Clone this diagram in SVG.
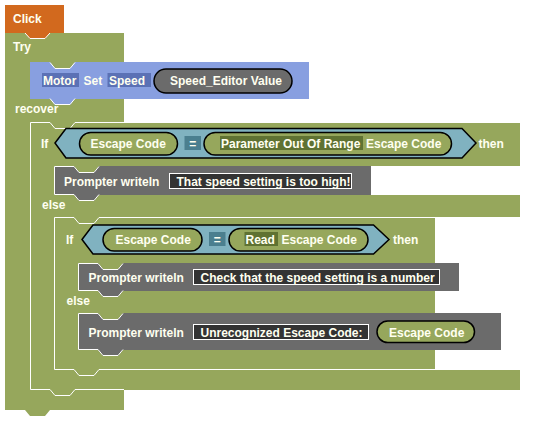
<svg xmlns="http://www.w3.org/2000/svg" width="540" height="426" viewBox="0 0 540 426">
<style>
text{font-family:"Liberation Sans",Arial,sans-serif;font-size:12px;font-weight:bold;fill:#fffff0}
.olive{fill:#96a75c}
.edge{fill:none;stroke:#ffffff;stroke-width:1}
.gray{fill:#6b6b6b}
.hex{fill:#80b2c0;stroke:#000;stroke-width:1.5}
.oval{fill:#96a75c;stroke:#000;stroke-width:1.5}
.ovalg{fill:#6b6b6b;stroke:#000;stroke-width:1.5}
.eq{fill:#4b7f8f}
.hl{fill:#5f7232}
.bhl{fill:#5b71b5}
.tbox{fill:#333333;stroke:#ffffff;stroke-width:1}
</style>
<rect width="540" height="426" fill="#ffffff"/>
<g id="try">
<path class="olive" d="M5,33 H124 V410 H50 L45,416 H30 L25,410 H5 Z"/>
<text x="13" y="51">Try</text>
<text x="15" y="113">recover</text>
</g>
<g id="click">
<path fill="#d2691e" d="M5,5 H64 V33 H50 L45,39 H30 L25,33 H5 Z"/>
<path class="edge" d="M25,33 L30,38.5 H45 L50,33"/>
<text x="13" y="23">Click</text>
</g>
<g id="motor">
<path fill="#889fe0" d="M30,62 H50 L55,68 H70 L75,62 H309 V99 H75 L70,105 H55 L50,99 H30 Z"/>
<path class="edge" d="M50,62.5 L55,68.5 H70 L75,62.5"/>
<path class="edge" d="M50,98.5 L55,104.5 H70 L75,98.5"/>
<rect class="bhl" x="42" y="73" width="37" height="14"/>
<text x="43" y="85">Motor</text>
<text x="83.5" y="85">Set</text>
<rect class="bhl" x="107.5" y="73" width="43.5" height="14"/>
<text x="109" y="85">Speed</text>
<rect class="ovalg" x="154" y="69" width="138" height="24" rx="12"/>
<text x="170" y="85">Speed_Editor Value</text>
</g>
<g id="if-outer">
<path class="olive" d="M30,122 H50 L55,128 H70 L75,122 H520 V166 H99 L94,172 H79 L74,166 H54 V195 H520 V217 H99 L94,223 H79 L74,217 H54 V370 H520 V390 H75 L70,396 H55 L50,390 H30 Z"/>
<path class="edge" d="M520,122.5 H75 L70,128.5 H55 L50,122.5 H30.5 V389.5 H50 L55,395.5 H70 L75,389.5 H124"/>
<text x="41" y="148">If</text>
<polygon class="hex" points="55,143 66,128.5 462,128.5 476,143 462,158 66,158"/>
<rect class="oval" x="79.5" y="132.5" width="98" height="22.5" rx="11.25"/>
<text x="90.5" y="148">Escape Code</text>
<rect class="eq" x="184.5" y="136" width="16.5" height="14"/>
<text x="192.7" y="147.5" text-anchor="middle">=</text>
<rect class="oval" x="204" y="132.5" width="247.5" height="22.5" rx="11.25"/>
<rect class="hl" x="220" y="136" width="143" height="14"/>
<text x="221" y="148">Parameter Out Of Range</text>
<text x="366" y="148">Escape Code</text>
<text x="478.5" y="148">then</text>
<text x="42" y="208.5">else</text>
</g>
<g id="prompter-1">
<path class="gray" d="M54,166 H74 L79,172 H94 L99,166 H371 V195 H99 L94,201 H79 L74,195 H54 Z"/>
<path class="edge" d="M99,166.5 L94,172.5 H79 L74,166.5 H54.5 V194.5 H74 L79,200.5 H94 L99,194.5"/>
<text x="64" y="185.5">Prompter writeln</text>
<rect class="tbox" x="169.5" y="173.5" width="182" height="15"/>
<text x="176.5" y="185.5">That speed setting is too high!</text>
</g>
<g id="if-inner">
<path class="olive" d="M54,217 H74 L79,223 H94 L99,217 H435 V263 H123 L118,269 H103 L98,263 H78 V291 H435 V313 H123 L118,319 H103 L98,313 H78 V350 H435 V370 H99 L94,376 H79 L74,370 H54 Z"/>
<path class="edge" d="M435,217.5 H99 L94,223.5 H79 L74,217.5 H54.5 V369.5 H74 L79,375.5 H94 L99,369.5 H435"/>
<text x="66" y="244">If</text>
<polygon class="hex" points="82,239.5 93,225 373.5,225 389,239.5 373.5,254 93,254"/>
<rect class="oval" x="103" y="228.5" width="99" height="22.5" rx="11.25"/>
<text x="115.5" y="244">Escape Code</text>
<rect class="eq" x="209" y="232" width="16.5" height="14"/>
<text x="217.2" y="243.5" text-anchor="middle">=</text>
<rect class="oval" x="229" y="228.5" width="139" height="22.5" rx="11.25"/>
<rect class="hl" x="244.5" y="232" width="33.5" height="14"/>
<text x="245.5" y="244">Read</text>
<text x="281.5" y="244">Escape Code</text>
<text x="393" y="244">then</text>
<text x="66.5" y="305">else</text>
</g>
<g id="prompter-2">
<path class="gray" d="M78,263 H98 L103,269 H118 L123,263 H459 V291 H123 L118,297 H103 L98,291 H78 Z"/>
<path class="edge" d="M123,263.5 L118,269.5 H103 L98,263.5 H78.5 V290.5 H98 L103,296.5 H118 L123,290.5"/>
<text x="88.5" y="281.5">Prompter writeln</text>
<rect class="tbox" x="193.5" y="269.5" width="246" height="15"/>
<text x="200.5" y="281.5">Check that the speed setting is a number</text>
</g>
<g id="prompter-3">
<path class="gray" d="M78,313 H98 L103,319 H118 L123,313 H501 V350 H123 L118,356 H103 L98,350 H78 Z"/>
<path class="edge" d="M123,313.5 L118,319.5 H103 L98,313.5 H78.5 V349.5 H98 L103,355.5 H118 L123,349.5"/>
<text x="88.5" y="336.5">Prompter writeln</text>
<rect class="tbox" x="193.5" y="324.5" width="175" height="15"/>
<text x="200.5" y="336.5">Unrecognized Escape Code:</text>
<rect class="oval" x="377" y="321" width="97.5" height="21.5" rx="10.75"/>
<text x="389" y="336.5">Escape Code</text>
</g>
<g id="connectors"/>
</svg>
